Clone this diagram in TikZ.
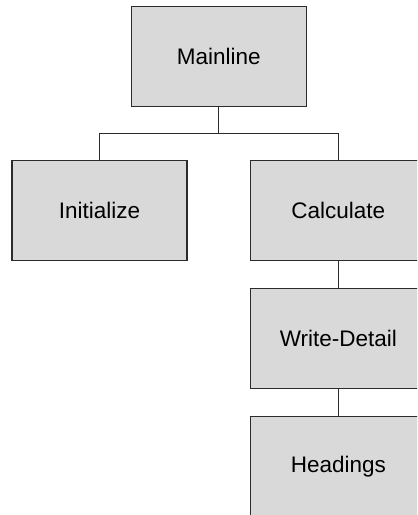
\documentclass[tikz,border=0pt]{standalone}
\usepackage{fontspec}
\setmainfont{Liberation Sans}
\definecolor{boxfill}{HTML}{D9D9D9}
\definecolor{boxline}{HTML}{2B2B2B}
\begin{document}
\begin{tikzpicture}[x=1bp,y=-1bp,
  module/.style={draw=boxline, fill=boxfill, line width=1.1bp,
    minimum width=175bp, minimum height=100bp, inner sep=0pt,
    font=\fontsize{22.5bp}{27bp}\selectfont},
  link/.style={draw=boxline, line width=1.1bp}]
  \useasboundingbox (0,0) rectangle (417,515);
  \clip (0,0) rectangle (417,515);
  \node[module] (main) at (218.7,56.5) {Mainline};
  \node[module] (init) at (99.5,210.7) {Initialize};
  \node[module] (calc) at (338.3,210.7) {Calculate};
  \node[module] (write) at (338.3,338.5) {Write-Detail};
  \node[module] (head) at (338.3,466.2) {Headings};
  \path[link] (main.south) -- ++(0,26.8) coordinate (fork);
  \path[link] (fork) -| (init.north);
  \path[link] (fork) -| (calc.north);
  \path[link] (calc.south) -- (write.north);
  \path[link] (write.south) -- (head.north);
\end{tikzpicture}
\end{document}
